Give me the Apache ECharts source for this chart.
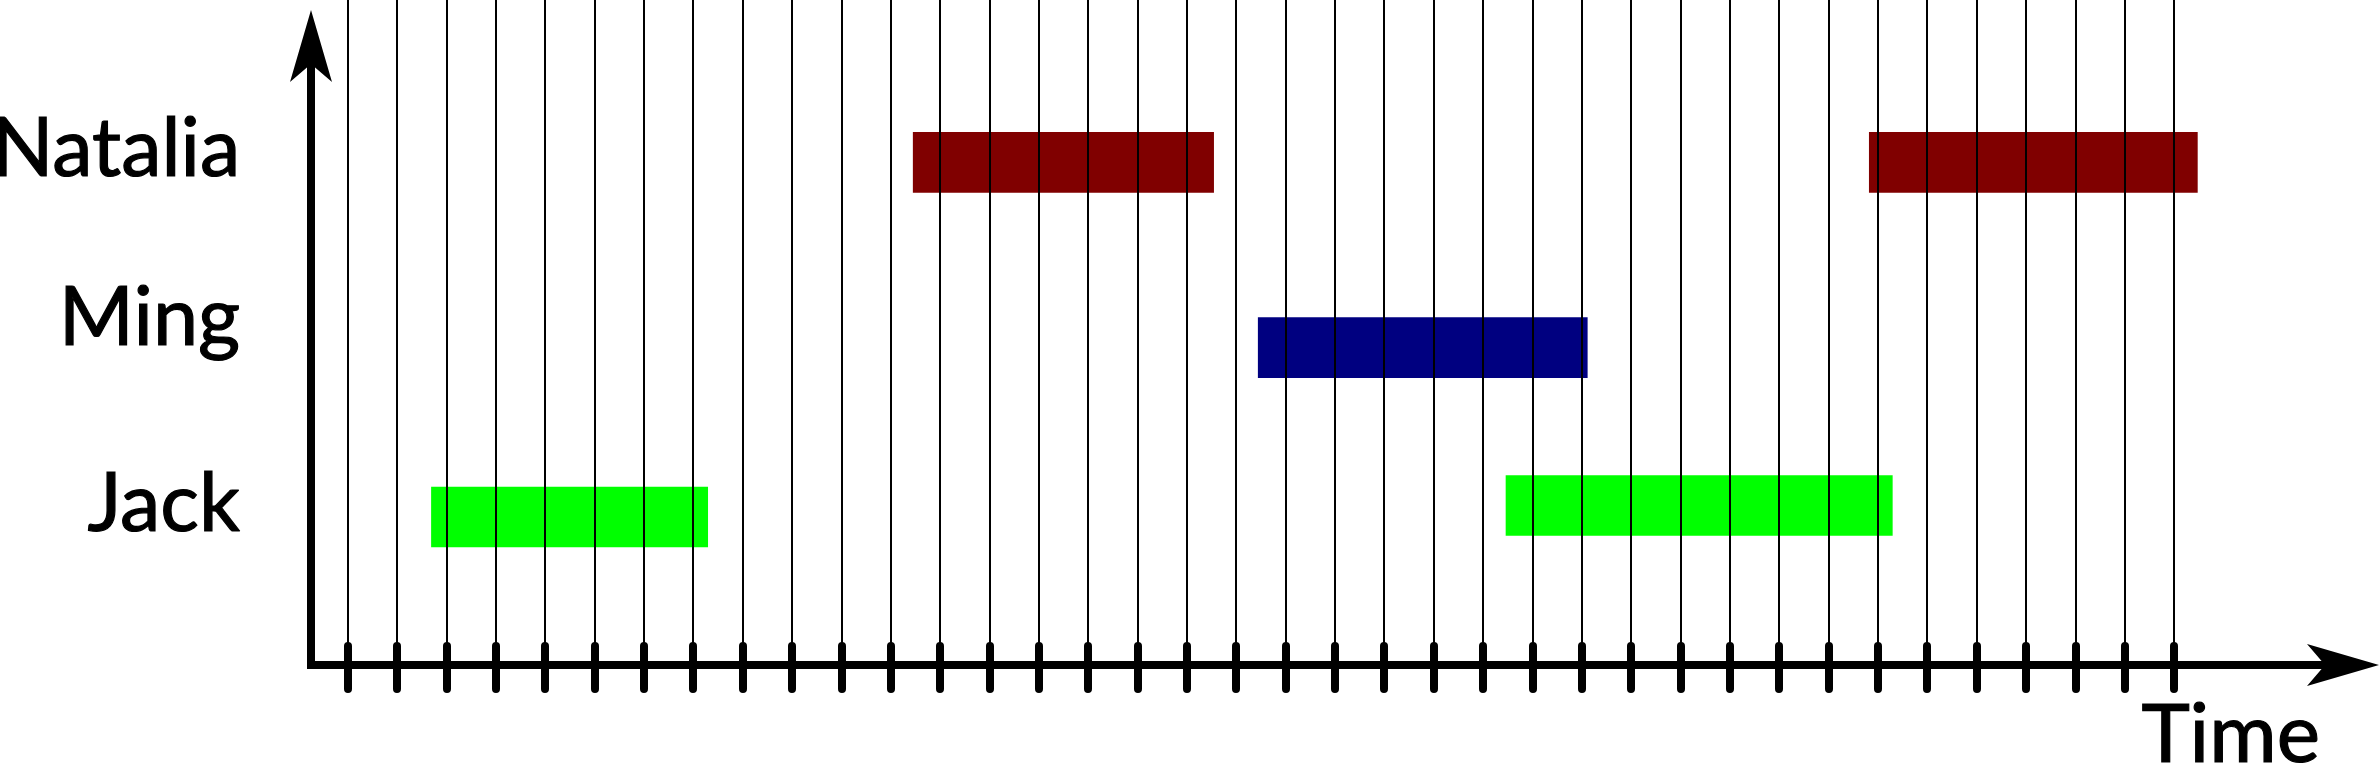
<!DOCTYPE html>
<html><head><meta charset="utf-8">
<script src="https://cdn.jsdelivr.net/npm/echarts@6/dist/echarts.min.js"></script>
<style>html,body{margin:0;padding:0;background:#fff}#c{width:2380px;height:766px}</style>
</head><body><div id="c"></div>
<script>
// ---- data ----
const people = ['Jack', 'Ming', 'Natalia'];
const personLevel = [1.60, 3.46, 5.15];          // label rows (y units)
const personColor = ['#00ff00', '#000080', '#800000'];
const taskPerson = ['Jack', 'Jack', 'Ming', 'Natalia', 'Natalia'];
const taskStart  = [1.69, 23.46, 18.44, 11.45, 30.82];
const taskEnd    = [7.30, 31.30, 25.12, 17.55, 37.48];
const taskLevel  = [1.48, 1.595, 3.174, 5.026, 5.026];
const timeMin = 0, timeMax = 37, timeInterval = 1;
const xName = 'Time';

// ---- style ----
const FONT = 'Lato';
const BAR_THICK = 0.607;

const chart = echarts.init(document.getElementById('c'), null, {renderer: 'canvas'});
const data = taskStart.map((s, i) => [s, taskEnd[i], taskLevel[i], people.indexOf(taskPerson[i])]);
const arrowLine = {show: true, onZero: false, symbol: ['none', 'arrow'], symbolSize: [31.5, 72], symbolOffset: [0, 36],
  lineStyle: {color: '#000', width: 8, cap: 'square'}};
const textThick = {textBorderColor: '#000', textBorderWidth: 1.2};

chart.setOption({
  animation: false,
  backgroundColor: '#fff',
  grid: [
    {left: 347.7, right: 206, top: 0, bottom: 101, containLabel: false, outerBoundsMode: 'none'},
    {left: 311, right: 37, top: 46, bottom: 101, containLabel: false, outerBoundsMode: 'none'}
  ],
  xAxis: [
    {gridIndex: 0, type: 'value', min: timeMin, max: timeMax, interval: timeInterval, offset: -19, z: 5,
      axisLine: {show: false, onZero: false},
      axisTick: {show: true, length: 43, lineStyle: {color: '#000', width: 8, cap: 'round'}},
      axisLabel: {show: false},
      splitLine: {show: true, lineStyle: {color: '#000', width: 2}}},
    {gridIndex: 1, type: 'value', min: 0, max: 1, z: 6,
      name: xName, nameLocation: 'end', nameGap: -23,
      nameTextStyle: Object.assign({fontFamily: FONT, fontSize: 82, color: '#000', align: 'right', verticalAlign: 'top',
        lineHeight: 82, padding: [30, 0, 0, 0]}, textThick),
      axisLine: arrowLine, axisTick: {show: false}, axisLabel: {show: false}, splitLine: {show: false}}
  ],
  yAxis: [
    {gridIndex: 0, type: 'value', min: 0, max: 6.65,
      axisLine: {show: false}, axisTick: {show: false}, splitLine: {show: false},
      axisLabel: Object.assign({show: true, customValues: personLevel, margin: 107.5, fontFamily: FONT, fontSize: 81, color: '#000',
        formatter: function (v) {
          let best = 0;
          personLevel.forEach((p, i) => { if (Math.abs(p - v) < Math.abs(personLevel[best] - v)) best = i; });
          return people[best];
        }}, textThick)},
    {gridIndex: 1, type: 'value', min: 0, max: 1, z: 6,
      axisLine: arrowLine, axisTick: {show: false}, axisLabel: {show: false}, splitLine: {show: false}}
  ],
  series: [{
    type: 'custom', xAxisIndex: 0, yAxisIndex: 0, z: 2, clip: false,
    encode: {x: [0, 1], y: 2},
    renderItem: function (params, api) {
      const s = api.coord([api.value(0), api.value(2)]);
      const e = api.coord([api.value(1), api.value(2)]);
      const h = api.size([0, BAR_THICK])[1];
      return {type: 'rect', shape: {x: s[0], y: s[1] - h / 2, width: e[0] - s[0], height: h},
        style: {fill: personColor[api.value(3)]}};
    },
    data: data
  }]
});
</script></body></html>
